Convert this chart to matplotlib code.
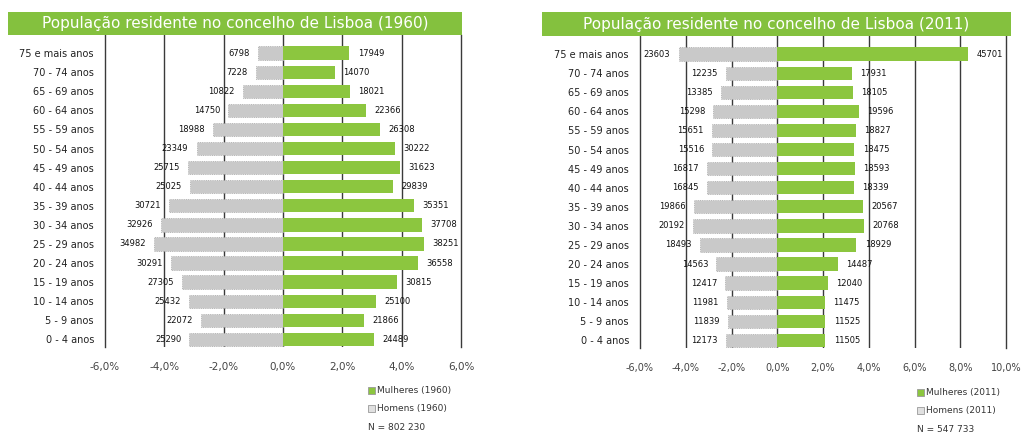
import numpy as np
import matplotlib
matplotlib.use("Agg")
import matplotlib.pyplot as plt
from matplotlib.patches import Rectangle

# Data
ages = ["75 e mais anos", "70 - 74 anos", "65 - 69 anos", "60 - 64 anos",
        "55 - 59 anos", "50 - 54 anos", "45 - 49 anos", "40 - 44 anos",
        "35 - 39 anos", "30 - 34 anos", "25 - 29 anos", "20 - 24 anos",
        "15 - 19 anos", "10 - 14 anos", "5 - 9 anos", "0 - 4 anos"]

men_1960 = [6798, 7228, 10822, 14750, 18988, 23349, 25715, 25025,
            30721, 32926, 34982, 30291, 27305, 25432, 22072, 25290]
women_1960 = [17949, 14070, 18021, 22366, 26308, 30222, 31623, 29839,
              35351, 37708, 38251, 36558, 30815, 25100, 21866, 24489]
n_1960 = 802230

men_2011 = [23603, 12235, 13385, 15298, 15651, 15516, 16817, 16845,
            19866, 20192, 18493, 14563, 12417, 11981, 11839, 12173]
women_2011 = [45701, 17931, 18105, 19596, 18827, 18475, 18593, 18339,
              20567, 20768, 18929, 14487, 12040, 11475, 11525, 11505]
n_2011 = 547733

ticks_1960 = [-6, -4, -2, 0, 2, 4, 6]
ticks_2011 = [-6, -4, -2, 0, 2, 4, 6, 8, 10]

GREEN = "#8cc63f"
TITLE_GREEN = "#84c13e"
GREY = "#c9c9c9"
GRID = "#3a3a3a"

plt.rcParams["font.family"] = ["DejaVu Sans"]

W, H = 1024, 434
fig = plt.figure(figsize=(W / 100, H / 100), dpi=100)


def px(x0, y0, x1, y1):
    # pixel box -> figure fraction rect
    return [x0 / W, 1 - y1 / H, (x1 - x0) / W, (y1 - y0) / H]


def pyramid(rect, men, women, n, ticks, title, title_box, year, leg_xy, xfs):
    ax = fig.add_axes(rect)
    y = np.arange(len(ages))[::-1]
    m = -np.array(men) / n * 100
    w = np.array(women) / n * 100

    ax.barh(y, m, height=0.7, color=GREY, edgecolor="#a8a8a8",
            linewidth=0.6, linestyle=":", zorder=3)
    ax.barh(y, w, height=0.7, color=GREEN, zorder=3)

    for yi, v, c in zip(y, m, men):
        ax.annotate(str(c), (v, yi), xytext=(-6, 0), textcoords="offset points",
                    ha="right", va="center", fontsize=6, color="#111111")
    for yi, v, c in zip(y, w, women):
        ax.annotate(str(c), (v, yi), xytext=(6, 0), textcoords="offset points",
                    ha="left", va="center", fontsize=6, color="#111111")

    ax.set_xlim(ticks[0], ticks[-1])
    ax.set_ylim(-0.4, len(ages) - 0.05)
    ax.set_xticks(ticks)
    ax.set_xticklabels([f"{t:.1f}".replace(".", ",") + "%" for t in ticks],
                       fontsize=xfs, color="#444444")
    ax.set_yticks(y)
    ax.set_yticklabels(ages, fontsize=7, color="#222222")
    ax.tick_params(axis="both", length=0)
    ax.tick_params(axis="x", pad=11)
    ax.tick_params(axis="y", pad=8)
    for t in ticks[1:-1]:
        ax.axvline(t, color=GRID, lw=1.0, zorder=1)
    for s in ["top", "bottom"]:
        ax.spines[s].set_visible(False)
    for s in ["left", "right"]:
        ax.spines[s].set_color(GRID)
        ax.spines[s].set_linewidth(1.0)

    # title bar
    x0, y0, x1, y1 = title_box
    r = px(x0, y0, x1, y1)
    fig.patches.append(Rectangle((r[0], r[1]), r[2], r[3], transform=fig.transFigure,
                                 facecolor=TITLE_GREEN, edgecolor="none"))
    fig.text(r[0] + r[2] / 2, r[1] + r[3] / 2, title, ha="center", va="center",
             color="white", fontsize=11)

    # legend
    lx, ly = leg_xy
    items = [(GREEN, f"Mulheres ({year})"), ("#e0e0e0", f"Homens ({year})")]
    for i, (col, lab) in enumerate(items):
        yy = ly + i * 18.5
        sq = px(lx, yy - 3.5, lx + 7, yy + 3.5)
        fig.patches.append(Rectangle((sq[0], sq[1]), sq[2], sq[3], transform=fig.transFigure,
                                     facecolor=col, edgecolor="#999999", linewidth=0.6))
        fig.text((lx + 9) / W, 1 - yy / H, lab, ha="left", va="center",
                 fontsize=6.5, color="#333333")
    n_txt = f"{n:,}".replace(",", " ")
    fig.text(lx / W, 1 - (ly + 37) / H, f"N = {n_txt}", ha="left", va="center",
             fontsize=6.5, color="#333333")
    return ax


pyramid(px(105, 35, 461, 347), men_1960, women_1960, n_1960, ticks_1960,
        "População residente no concelho de Lisboa (1960)", (8, 12, 462, 35),
        1960, (368, 390), 7.5)
pyramid(px(640, 36, 1006, 348), men_2011, women_2011, n_2011, ticks_2011,
        "População residente no concelho de Lisboa (2011)", (542, 12, 1011, 36),
        2011, (917, 392), 7)

fig.savefig("out.png", dpi=100)
